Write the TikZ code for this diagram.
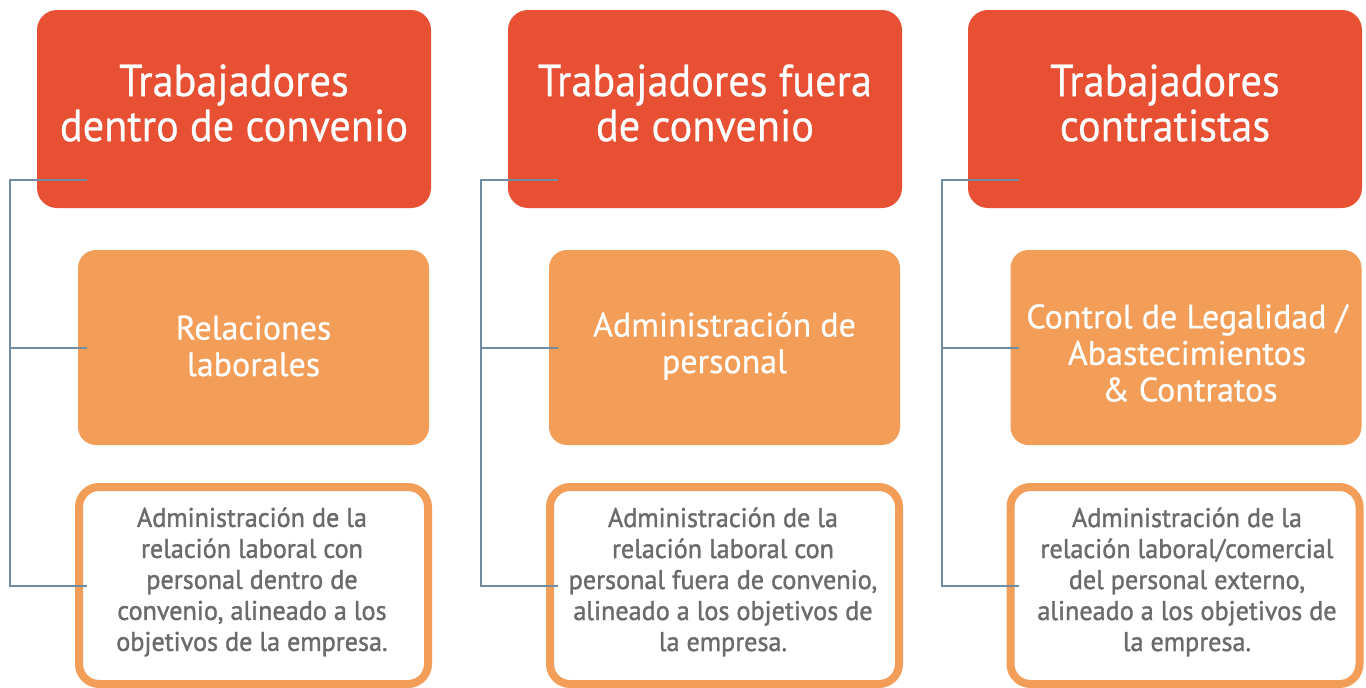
\documentclass[tikz,border=0pt]{standalone}
\usepackage{fontspec}
\setmainfont{PT Sans}
\newfontfamily\titlefont[FakeStretch=0.94,FakeBold=0.5]{PT Sans}
\newfontfamily\midfont[FakeBold=0.5]{PT Sans}
\newfontfamily\descfont[FakeStretch=0.97,FakeBold=1.3]{PT Sans}
\usetikzlibrary{calc}
\definecolor{cred}{HTML}{E85034}
\definecolor{corange}{HTML}{F39E58}
\definecolor{cgray}{HTML}{6B6B6D}
\definecolor{cline}{HTML}{6F8CA2}
\tikzset{
  titlebox/.style={fill=cred, rounded corners=20pt, minimum width=394pt, minimum height=198pt, inner sep=0pt},
  titletext/.style={text=white, align=center, inner sep=0pt, font=\titlefont\fontsize{45}{45}\selectfont},
  midbox/.style={fill=corange, rounded corners=18pt, minimum width=351pt, minimum height=195pt, inner sep=0pt},
  midtext/.style={text=white, align=center, inner sep=0pt, font=\midfont\fontsize{34}{36.5}\selectfont},
  descbox/.style={draw=corange, line width=8pt, fill=white, rounded corners=20pt, minimum width=349pt, minimum height=197pt, inner sep=0pt},
  desctext/.style={text=cgray, align=center, inner sep=0pt, font=\descfont\fontsize{27}{31}\selectfont},
  conn/.style={draw=cline, line width=2pt},
}
\begin{document}
\begin{tikzpicture}[x=1pt,y=-1pt]
\useasboundingbox (0,0) rectangle (1366,688);
\fill[white] (0,0) rectangle (1366,688);
% column 1
\node[titlebox] (r1) at (234,109) {};
\node[titletext] (r1t) at (234,103) {Trabajadores\\dentro de convenio};
\node[midbox] (o1) at (253.5,347.5) {};
\node[midtext] (o1t) at (253.5,346) {Relaciones\\laborales};
\node[descbox] (w1) at (253.5,585.5) {};
\node[desctext] (w1t) at (252,582) {Administración de la\\relación laboral con\\personal dentro de\\convenio, alineado a los\\objetivos de la empresa.};
% column 2
\node[titlebox] (r2) at (705,109) {};
\node[titletext] (r2t) at (705,103) {Trabajadores fuera\\de convenio};
\node[midbox] (o2) at (724.5,347.5) {};
\node[midtext] (o2t) at (724.5,346) {Administración de\\personal};
\node[descbox] (w2) at (724.5,585.5) {};
\node[desctext] (w2t) at (723,582) {Administración de la\\relación laboral con\\personal fuera de convenio,\\alineado a los objetivos de\\la empresa.};
% column 3
\node[titlebox] (r3) at (1165,109) {};
\node[titletext] (r3t) at (1165,103) {Trabajadores\\contratistas};
\node[midbox] (o3) at (1186,347.5) {};
\node[midtext] (o3t) at (1187,353) {Control de Legalidad /\\Abastecimientos\\\,\& Contratos};
\node[descbox] (w3) at (1185,585.5) {};
\node[desctext] (w3t) at (1187,582) {Administración de la\\relación laboral/comercial\\del personal externo,\\alineado a los objetivos de\\la empresa.};
% connectors
\foreach \i/\x in {1/10,2/481,3/942}{
  \coordinate (a\i) at (\x,180);
  \coordinate (b\i) at (\x,348);
  \coordinate (c\i) at (\x,586);
  \coordinate (ea\i) at (\x+77,180);
  \coordinate (eb\i) at (\x+77,348);
  \coordinate (ec\i) at (\x+77,586);
  \draw[conn] (ea\i) -- (a\i) -- (c\i) -- (ec\i);
  \draw[conn] (b\i) -- (eb\i);
}
\end{tikzpicture}
\end{document}
